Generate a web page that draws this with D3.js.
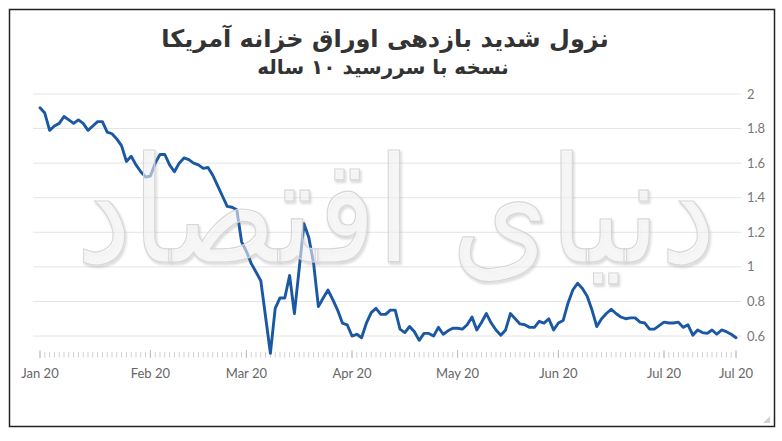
<!DOCTYPE html>
<html><head><meta charset="utf-8">
<script src="https://cdn.jsdelivr.net/npm/d3@7"></script>
<style>
html,body{margin:0;padding:0;background:#fff;}
svg{display:block;}
</style>
</head><body>
<svg id="chart" width="782" height="441"></svg>
<script>
const titleText = "نزول شدید بازدهی اوراق خزانه آمریکا";
const subtitleText = "نسخه با سررسید ۱۰ ساله";
const watermarkText = "دنیای اقتصاد";

// daily 10-year yield (%), Jan 2020 – Jul 2020, one value per trading day
const yields = [
  1.92,1.89,1.79,1.815,1.83,1.87,1.85,1.83,1.85,1.83,1.79,1.815,1.84,1.84,1.78,1.77,1.74,1.70,1.61,1.64,
  1.59,1.55,1.52,1.525,1.60,1.65,1.65,1.59,1.55,1.60,1.63,1.62,1.60,1.59,1.57,1.575,1.53,1.47,1.41,1.35,
  1.345,1.33,1.145,1.09,1.02,0.97,0.92,0.71,0.50,0.76,0.82,0.82,0.95,0.73,0.99,1.25,1.17,1.02,0.77,0.82,
  0.866,0.81,0.75,0.675,0.665,0.60,0.61,0.59,0.675,0.735,0.76,0.725,0.725,0.75,0.75,0.64,0.62,0.655,0.625,0.575,
  0.615,0.615,0.60,0.65,0.61,0.63,0.645,0.645,0.64,0.665,0.71,0.635,0.68,0.73,0.675,0.635,0.605,0.635,0.73,0.70,
  0.67,0.665,0.65,0.65,0.685,0.675,0.70,0.635,0.675,0.69,0.79,0.866,0.905,0.875,0.83,0.75,0.655,0.70,0.73,0.755,
  0.73,0.71,0.70,0.705,0.705,0.68,0.675,0.64,0.64,0.66,0.68,0.675,0.675,0.68,0.65,0.665,0.605,0.635,0.62,0.615,
  0.635,0.61,0.635,0.625,0.61,0.59
];
const monthLabels = ["Jan 20","Feb 20","Mar 20","Apr 20","May 20","Jun 20","Jul 20","Jul 20"];
const monthIndex  = [0, 23, 43, 65, 87, 108, 130, 145];
const yTicks = [0.6, 0.8, 1, 1.2, 1.4, 1.6, 1.8, 2];

const svg = d3.select("#chart");

// frame
svg.append("rect").attr("x",9.5).attr("y",9.5).attr("width",765).attr("height",417)
  .attr("fill","#fff").attr("stroke","#222").attr("stroke-width",1.5);

const x = d3.scaleLinear().domain([0, yields.length-1]).range([40, 736]);
const y = d3.scaleLinear().domain([0.5, 2]).range([353.3, 94]);

// gridlines
svg.append("g").selectAll("line").data(yTicks).join("line")
  .attr("x1",33).attr("x2",741)
  .attr("y1",d=>y(d)).attr("y2",d=>y(d))
  .attr("stroke","#e4e4e4").attr("stroke-width",1);

// y labels (right)
svg.append("g").selectAll("text").data(yTicks).join("text")
  .attr("x",747).attr("y",d=>y(d)).attr("dy","0.35em")
  .attr("font-family","Lato, 'Open Sans', sans-serif").attr("font-size",13)
  .attr("fill","#777").text(d=>d3.format("")(d));

// x axis ticks
const tickG = svg.append("g");
tickG.selectAll("line.minor").data(d3.range(yields.length)).join("line")
  .attr("class","minor")
  .attr("x1",d=>x(d)).attr("x2",d=>x(d))
  .attr("y1",352).attr("y2",357.5)
  .attr("stroke","#cfcfcf").attr("stroke-width",1);
tickG.selectAll("line.major").data(monthIndex).join("line")
  .attr("class","major")
  .attr("x1",d=>x(d)).attr("x2",d=>x(d))
  .attr("y1",350).attr("y2",358)
  .attr("stroke","#bdbdbd").attr("stroke-width",1);

svg.append("g").selectAll("text").data(monthLabels).join("text")
  .attr("x",(d,i)=>x(monthIndex[i])).attr("y",378)
  .attr("text-anchor","middle")
  .attr("font-family","Lato, 'Open Sans', sans-serif").attr("font-size",13)
  .attr("fill","#666").text(d=>d);

// line
const line = d3.line().x((d,i)=>x(i)).y(d=>y(d)).curve(d3.curveLinear);
svg.append("path").datum(yields)
  .attr("d",line).attr("fill","none")
  .attr("stroke","#1b58a3").attr("stroke-width",2.9)
  .attr("stroke-linejoin","round").attr("stroke-linecap","round");

// watermark (stretched horizontally via transform so its box stays inside the plot)
const defs = svg.append("defs");
const f = defs.append("filter").attr("id","emb").attr("x","-10%").attr("y","-10%").attr("width","120%").attr("height","130%");
f.append("feDropShadow").attr("dx",1.5).attr("dy",2).attr("stdDeviation",1.2).attr("flood-color","#777").attr("flood-opacity",0.4);
const wmG = svg.append("g");
const wm = wmG.append("text")
  .attr("x",0).attr("y",0)
  .attr("text-anchor","middle")
  .attr("font-family","'DejaVu Sans', sans-serif").attr("font-size",140)
  .attr("fill","rgba(255,255,255,0.5)").attr("stroke","#d6d6d6").attr("stroke-width",1.1)
  .attr("filter","url(#emb)")
  .attr("direction","rtl")
  .text(watermarkText);
const natW = wm.node().getComputedTextLength() || 650;
const sx = 640 / natW;
wmG.attr("transform", `translate(396,262) scale(${sx},1.05)`);
wm.attr("stroke-width", 1.1 / Math.sqrt(sx));

// titles
svg.append("text").attr("x",385).attr("y",47).attr("text-anchor","middle")
  .attr("font-family","'DejaVu Sans', sans-serif").attr("font-weight","bold").attr("font-size",24)
  .attr("fill","#333").attr("direction","rtl").text(titleText);
svg.append("text").attr("x",383).attr("y",74).attr("text-anchor","middle")
  .attr("font-family","'DejaVu Sans', sans-serif").attr("font-weight","bold").attr("font-size",20)
  .attr("fill","#333").attr("direction","rtl").text(subtitleText);

// resize grip
svg.append("path").attr("d","M770,416 L770,423 L763,423 Z").attr("fill","#d8d0c4");
</script>
</body></html>
